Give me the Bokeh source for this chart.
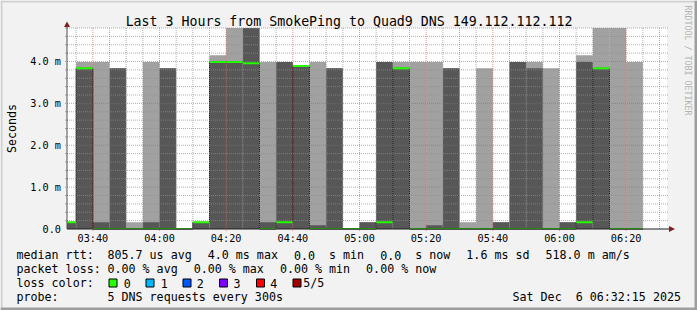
import math
import re
from bokeh.plotting import figure
from bokeh.models import Range1d
from bokeh.core.properties import value
from bokeh.embed import file_html
from bokeh.resources import INLINE

# ---------------- data ----------------
title_text = "Last 3 Hours from SmokePing to Quad9 DNS 149.112.112.112"
y_unit_label = "Seconds"
watermark = "RRDTOOL / TOBI OETIKER"

bin_starts = ["03:30", "03:35", "03:40", "03:45", "03:50", "03:55", "04:00", "04:05",
              "04:10", "04:15", "04:20", "04:25", "04:30", "04:35", "04:40", "04:45",
              "04:50", "04:55", "05:00", "05:05", "05:10", "05:15", "05:20", "05:25",
              "05:30", "05:35", "05:40", "05:45", "05:50", "05:55", "06:00", "06:05",
              "06:10", "06:15", "06:20"]
# sorted ping values per 5-minute step (ms)
ping_min = [0, 0, 0, 0, 0, 0, 0, 0, 0, 0, 0, 0, 0, 0, 0, 0, 0, 0,
            0, 0, 0, 0, 0, 0, 0, 0, 0, 0, 0, 0, 0, 0, 0, 0, 0]
ping_low = [0, 0, 0, 0, 0, 0, 0, 0, 0, 0, 0, 0, 0, 0, 0, 0, 0, 0,
            0, 0, 0, 0, 0, 0, 0, 0, 0, 0, 0, 0, 0, 0, 0, 0, 0]
ping_median = [0.16, 3.84, 0, 0, 0, 0, 0, 0, 0.16, 3.99, 3.99, 3.96, 0, 0.16, 3.89, 0, 0, 0,
               0, 0.16, 3.84, 0, 0, 0, 0, 0, 0, 0, 0, 0, 0, 0.16, 3.84, 0, 0]
ping_high = [0.16, 3.84, 0.16, 3.84, 0, 0.16, 3.84, 0, 0.16, 3.99, 3.99, 4.95, 0.16, 3.99, 3.89, 0.09, 3.84, 0,
             0.16, 3.99, 3.84, 0, 0.09, 3.84, 0, 0, 0.16, 3.99, 3.84, 0, 0.16, 3.99, 3.84, 0, 0]
ping_max = [0.16, 3.99, 3.99, 3.84, 0.16, 3.99, 3.84, 0, 0.16, 4.15, 4.95, 4.95, 3.99, 3.99, 3.89, 3.99, 3.84, 0,
            0.16, 3.99, 3.99, 3.99, 3.99, 3.84, 0.16, 3.84, 0.16, 3.99, 3.99, 3.84, 0.16, 4.15, 4.95, 4.95, 3.99]

x_tick_labels = ["03:40", "04:00", "04:20", "04:40", "05:00", "05:20", "05:40", "06:00", "06:20"]
y_tick_values = [0, 1, 2, 3, 4]
y_tick_labels = ["0.0", "1.0 m", "2.0 m", "3.0 m", "4.0 m"]

median_label = "median rtt:"
median_stats = ["805.7 us avg", "4.0 ms max", "0.0  s min", "0.0  s now", "1.6 ms sd", "518.0 m am/s"]
loss_label = "packet loss:"
loss_stats = ["0.00 % avg", "0.00 % max", "0.00 % min", "0.00 % now"]
color_label = "loss color:"
loss_names = ["0", "1", "2", "3", "4", "5/5"]
loss_colors = ["#26ff00", "#00b8ff", "#0059ff", "#7e00ff", "#ff0000", "#a10000"]
probe_label = "probe:"
probe_text = "5 DNS requests every 300s"
stamp_text = "Sat Dec  6 06:32:15 2025"

# ---------------- layout helpers ----------------
def tmin(s):
    h, m = s.split(":")
    return int(h) * 60 + int(m)

STEP = 5
T_END = 6 * 60 + 32.25
T_START = T_END - 180
YMAX = 4.8
W, H = 697, 310
FL, FR, FT, FB = 66.5, 666.5, 27.5, 228.5   # plot area in canvas pixels
PX_T = (T_END - T_START) / (FR - FL)        # minutes per pixel
PX_Y = YMAX / (FB - FT)                     # ms per pixel
TXT_DY = 3.0                                # renderer baseline correction (px)

def X(px):
    return T_START + (px - FL) * PX_T

def Y(py):
    return (FB - py) * PX_Y

MONO = "DejaVu Sans Mono"
LEG = "11.66px"
CW = 7.02

p = figure(width=W, height=H, x_range=Range1d(X(0), X(W)), y_range=Range1d(Y(H), Y(0)),
           x_axis_type=None, y_axis_type=None, output_backend="svg", toolbar_location=None,
           title=None, min_border=0,
           min_border_left=0, min_border_right=0, min_border_top=0, min_border_bottom=0,
           background_fill_color="#f2f2f2", border_fill_color="#f2f2f2", outline_line_color=None)

# outer shaded frame
p.quad(left=[X(0), X(0)], right=[X(W), X(2)], top=[Y(0), Y(0)], bottom=[Y(2), Y(H)],
       fill_color="#cfcfcf", line_color=None)
p.quad(left=[X(0), X(W - 3)], right=[X(W), X(W)], top=[Y(H - 3), Y(0)], bottom=[Y(H), Y(H)],
       fill_color="#9e9e9e", line_color=None)

# canvas
p.quad(left=[T_START], right=[T_END], bottom=[0], top=[YMAX], fill_color="#ffffff", line_color=None)

starts = [tmin(s) for s in bin_starts]
ends = [s + STEP for s in starts]
cl = lambda v: max(min(v, YMAX), 0)
L = [max(s, T_START) for s in starts]
R = [min(e, T_END) for e in ends]

# smoke
p.quad(left=L, right=R, bottom=[cl(v) for v in ping_min], top=[cl(v) for v in ping_max],
       fill_color="#a1a1a1", line_color=None)
p.quad(left=L, right=R, bottom=[cl(v) for v in ping_low], top=[cl(v) for v in ping_high],
       fill_color="#575757", line_color=None)
# median line (rrdtool LINE1)
p.step(x=L + [R[-1]], y=ping_median + [ping_median[-1]], mode="after",
       line_color="#202020", line_width=1)
sw = PX_Y
p.quad(left=L, right=R, bottom=[cl(m - sw) for m in ping_median], top=[cl(m + sw) for m in ping_median],
       fill_color=loss_colors[0], line_color=None)

# grid (drawn above the data, as rrdtool does)
x_major = [tmin(s) for s in x_tick_labels]
x_minor = [t for t in range(215, 395, 5) if t not in x_major]
y_minor = [round(0.2 * i, 1) for i in range(1, 25) if i % 5 != 0]
GRID = "#8f8f8f"
MGRID = "#de4f4f"
p.segment(x0=x_minor, x1=x_minor, y0=[0] * len(x_minor), y1=[YMAX] * len(x_minor),
          line_color=GRID, line_alpha=0.7, line_dash="1 1", line_width=1)
p.segment(x0=[T_START] * len(y_minor), x1=[X(FR + 1.5)] * len(y_minor), y0=y_minor, y1=y_minor,
          line_color=GRID, line_alpha=0.7, line_dash="1 1", line_width=1)
p.segment(x0=x_major, x1=x_major, y0=[Y(FB + 2)] * len(x_major), y1=[YMAX] * len(x_major),
          line_color=MGRID, line_alpha=0.6, line_dash="1 1", line_width=1)
yM = y_tick_values[1:]
p.segment(x0=[X(FL - 2)] * len(yM), x1=[X(FR + 1.5)] * len(yM), y0=yM, y1=yM,
          line_color=MGRID, line_alpha=0.6, line_dash="1 1", line_width=1)
p.segment(x0=[X(FL - 2)] * len(y_minor), x1=[T_START] * len(y_minor), y0=y_minor, y1=y_minor,
          line_color=GRID, line_alpha=0.7, line_width=1)

# axes
AXIS = "#1f1f1f"
ARROW = "#7f1f1f"
p.segment(x0=[T_START], x1=[X(669)], y0=[0], y1=[0], line_color=AXIS, line_width=1)
p.segment(x0=[T_START], x1=[T_START], y0=[0], y1=[Y(26)], line_color="#505050", line_width=1)
p.patch(x=[X(63.5), X(66.5), X(69.5)], y=[Y(26.5), Y(21), Y(26.5)], fill_color=ARROW, line_color=None)
p.patch(x=[X(668.5), X(674.5), X(668.5)], y=[Y(225.5), Y(228.5), Y(231.5)], fill_color=ARROW, line_color=None)

# tick labels
p.text(x=x_major, y=[Y(241 - TXT_DY)] * len(x_major), text=x_tick_labels,
       text_font=value(MONO), text_font_size="10.2px", text_align="center",
       text_baseline="alphabetic", text_color="#000000")
p.text(x=[X(60.5)] * len(y_tick_values), y=[v + (TXT_DY + 0.8 - 3.7) * PX_Y for v in y_tick_values],
       text=y_tick_labels, text_font=value(MONO), text_font_size="10.2px", text_align="right",
       text_baseline="alphabetic", text_color="#000000")

def text(px, py, s, size=LEG, align="left", baseline="alphabetic", angle=0, color="#000000"):
    p.text(x=[X(px)], y=[Y(py)], text=[s], text_font=value(MONO), text_font_size=size,
           text_align=align, text_baseline=baseline, angle=angle, text_color=color)

def mono(px, py, s):
    # legend text: runs separated by 2+ spaces are placed on the character grid
    for m in re.finditer(r"\S+(?: \S+)*", s):
        text(px + m.start() * CW, py - TXT_DY, m.group())

text(348.5, 24 - TXT_DY - 0.5, title_text, size="13.25px", align="center")
text(11, 128, y_unit_label, align="center", baseline="middle", angle=math.pi / 2)
text(687, 5, watermark, size="8.3px", baseline="middle", angle=-math.pi / 2, color="#b4b4b4")

GAP = 16
rows = [257.5, 271.5, 285.5, 299.5]
mono(16, rows[0], median_label)
xx = 107
for s in median_stats:
    mono(xx, rows[0], s)
    xx += len(s) * CW + GAP
mono(16, rows[1], loss_label)
xx = 107
for s in loss_stats:
    mono(xx, rows[1], s)
    xx += len(s) * CW + GAP
mono(16, rows[2], color_label)
box_x = [108.5, 145.5, 182.5, 219, 256, 292.5]
name_x = [123.2, 160.2, 196.2, 233.0, 269.8, 302.8]
p.quad(left=[X(b) for b in box_x], right=[X(b + 8) for b in box_x],
       top=[Y(278.5)] * len(box_x), bottom=[Y(286.5)] * len(box_x),
       fill_color=loss_colors, line_color="#000000", line_width=1)
for nx, nm in zip(name_x, loss_names):
    mono(nx, rows[2], nm)
mono(16, rows[3], probe_label)
mono(107, rows[3], probe_text)
mono(680.5 - len(stamp_text) * CW, rows[3], stamp_text)

open("out.html", "w").write(file_html(p, INLINE))
